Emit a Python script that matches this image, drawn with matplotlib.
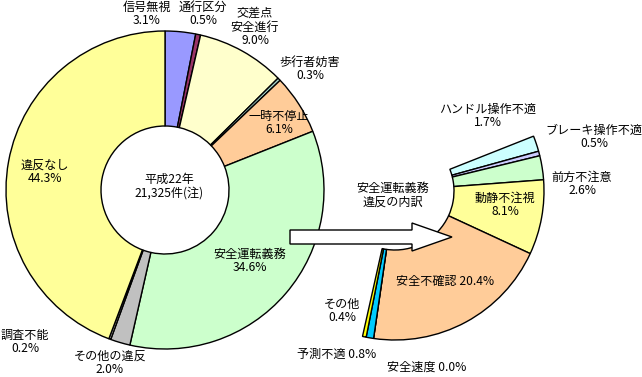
import matplotlib.pyplot as plt
from matplotlib.patches import Polygon

plt.rcParams['font.family'] = ['Noto Sans CJK JP', 'DejaVu Sans']

# left donut: all accidents
main_labels = ['信号無視', '通行区分', '交差点\n安全進行', '歩行者妨害', '一時不停止',
               '安全運転義務', 'その他の違反', '調査不能', '違反なし']
main_values = [3.1, 0.5, 9.0, 0.3, 6.1, 34.6, 2.0, 0.2, 44.3]
main_colors = ['#9999FF', '#993366', '#FFFFCC', '#A8D8D0', '#FFCC99',
               '#CCFFCC', '#C0C0C0', '#C0C0C0', '#FFFF99']

# right partial donut: breakdown of 安全運転義務
sub_labels = ['ハンドル操作不適', 'ブレーキ操作不適', '前方不注意', '動静不注視',
              '安全不確認', '安全速度', '予測不適', 'その他']
sub_values = [1.7, 0.5, 2.6, 8.1, 20.4, 0.0, 0.8, 0.4]
sub_colors = ['#CCFFFF', '#CCCCFF', '#CCFFCC', '#FFFF99',
              '#FFCC99', '#FFFFFF', '#00CCFF', '#FFFF00']

W, H = 642, 377
fig = plt.figure(figsize=(W / 100, H / 100), dpi=100)
ax = fig.add_axes([0, 0, 1, 1])

def py(y):
    # pixel row -> data y
    return H - y

wp = dict(edgecolor='black', linewidth=1.0)
ax.pie(main_values, colors=main_colors, radius=159, center=(165, py(190)),
       startangle=90, counterclock=False, wedgeprops=dict(width=95, **wp))

start_sub = 90 - 3.6 * sum(main_values[:5])
ax.pie([v / 100 for v in sub_values], colors=sub_colors, radius=149,
       center=(395, py(191)), startangle=start_sub, counterclock=False,
       normalize=False, wedgeprops=dict(width=90, **wp))

# block arrow
arrow = [(290, 230), (412, 230), (412, 223), (452, 237), (412, 251), (412, 244), (290, 244)]
ax.add_patch(Polygon([(x, py(y)) for x, y in arrow], closed=True,
                     facecolor='white', edgecolor='black', linewidth=1.0, zorder=5))

fs = 8.7
def lab(x, y, s, ha='center'):
    ax.text(x, py(y), s, ha=ha, va='center', fontsize=fs, linespacing=1.05, zorder=6)

lab(147, 14, '信号無視\n3.1%')
lab(203, 14, '通行区分\n0.5%')
lab(255, 27, '交差点\n安全進行\n9.0%')
lab(310, 69, '歩行者妨害\n0.3%')
lab(279, 123, '一時不停止\n6.1%')
lab(250, 261, '安全運転義務\n34.6%')
lab(45, 172, '違反なし\n44.3%')
lab(169, 186, '平成22年\n21,325件(注)')
lab(25, 342, '調査不能\n0.2%')
lab(110, 363, 'その他の違反\n2.0%')

lab(488, 116, 'ハンドル操作不適\n1.7%')
lab(594, 137, 'ブレーキ操作不適\n0.5%')
lab(582, 184, '前方不注意\n2.6%')
lab(505, 205, '動静不注視\n8.1%')
lab(393, 195, '安全運転義務\n違反の内訳')
lab(445, 282, '安全不確認 20.4%')
lab(342, 311, 'その他\n0.4%')
lab(337, 354, '予測不適 0.8%')
lab(427, 367, '安全速度 0.0%')

ax.set_xlim(0, W)
ax.set_ylim(0, H)
ax.set_aspect('equal')
ax.axis('off')

fig.savefig('out.png', dpi=100)
